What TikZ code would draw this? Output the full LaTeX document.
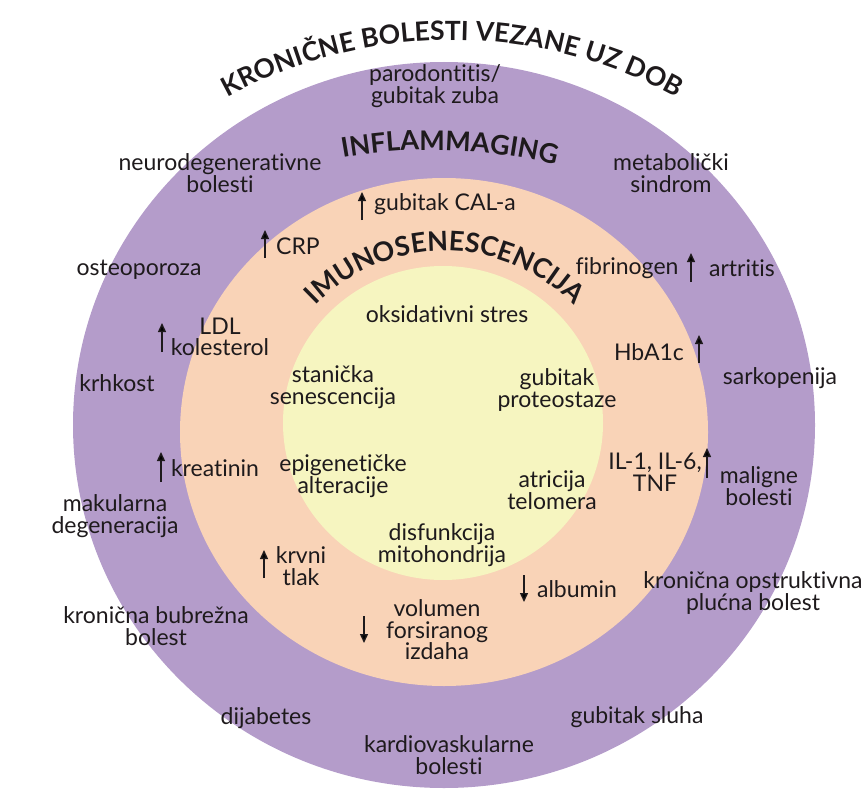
\documentclass[tikz,border=0pt]{standalone}
\usepackage{fontspec}
\setmainfont{Lato}[Ligatures=NoCommon]
\usetikzlibrary{decorations.text,arrows.meta}
\definecolor{ringpurple}{HTML}{B49CCA}
\definecolor{ringpeach}{HTML}{F9D3B7}
\definecolor{ringyellow}{HTML}{F6F5C0}
\definecolor{ink}{HTML}{1E1A1C}
\begin{document}
\begin{tikzpicture}[x=1pt,y=-1pt,
  lbl/.style={font=\fontsize{23}{21.5}\selectfont, text=ink, align=center, inner sep=0pt},
  uparr/.style={draw=ink, line width=1.4pt, -{Triangle[length=9pt,width=8pt]}},
  arctext/.style={decorate, decoration={text along path, text align=center, text color=ink, text={#1}}}
]
\useasboundingbox (0,0) rectangle (867,789);
% rings
\fill[ringpurple] (444,425) ellipse [x radius=371, y radius=363];
\fill[ringpeach] (444,432) ellipse [x radius=264, y radius=254];
\fill[ringyellow] (443,423) ellipse [x radius=160, y radius=157];

% curved titles
\coordinate (ctitle) at (452,507);
\path[arctext={|\fontsize{26.5}{26.5}\selectfont\bfseries|KRONIČNE BOLESTI VEZANE UZ DOB}]
  (ctitle) ++(-130:467) arc[start angle=-130, end angle=-50, radius=467];
\coordinate (cinfl) at (432,661);
\path[arctext={|\fontsize{27}{27}\selectfont\bfseries|INFLAMMAGING}]
  (cinfl) ++(-110:511) arc[start angle=-110, end angle=-66, radius=511];
\coordinate (cimuno) at (445,431);
\path[arctext={|\fontsize{27}{27}\selectfont\bfseries|IMUNOSENESCENCIJA}]
  (cimuno) ++(-145:180) arc[start angle=-145, end angle=-35, radius=180];

% outer ring labels
\node[lbl] (paro) at (435,86) {parodontitis/\\gubitak zuba};
\node[lbl] (neuro) at (220,173) {neurodegenerativne\\bolesti};
\node[lbl] (metab) at (671,173) {metabolički\\sindrom};
\node[lbl] (osteo) at (139,270) {osteoporoza};
\node[lbl] (krhk) at (117,383) {krhkost};
\node[lbl] (makul) at (115,516) {makularna\\degeneracija};
\node[lbl] (kbub) at (156,626) {kronična bubrežna\\bolest};
\node[lbl] (dijab) at (266,718) {dijabetes};
\node[lbl] (kardio) at (449,755) {kardiovaskularne\\bolesti};
\node[lbl] (sluh) at (637,717) {gubitak sluha};
\node[lbl] (kopb) at (753,593) {kronična opstruktivna\\plućna bolest};
\node[lbl] (malig) at (759,486) {maligne\\bolesti};
\node[lbl] (sarko) at (780,378) {sarkopenija};
\node[lbl] (artr) at (742,268) {artritis};

% peach ring labels
\node[lbl] (cal) at (445,204) {gubitak CAL-a};
\node[lbl] (crp) at (298,246) {CRP};
\node[lbl] (fibr) at (627,268) {fibrinogen};
\node[lbl] (ldl) at (220,337) {LDL\\kolesterol};
\node[lbl] (hba) at (649,352) {HbA1c};
\node[lbl] (krea) at (215,468) {kreatinin};
\node[lbl] (il) at (655,472) {IL-1, IL-6,\\TNF};
\node[lbl] (krvni) at (301,566) {krvni\\tlak};
\node[lbl] (albu) at (577,589) {albumin};
\node[lbl] (volu) at (437,630) {volumen\\forsiranog\\izdaha};

% inner labels
\node[lbl] (oks) at (447,314) {oksidativni stres};
\node[lbl] (stan) at (333,387) {stanička\\senescencija};
\node[lbl] (prot) at (557,390) {gubitak\\proteostaze};
\node[lbl] (epi) at (343,476) {epigenetičke\\alteracije};
\node[lbl] (atr) at (552,490) {atricija\\telomera};
\node[lbl] (disf) at (442,545) {disfunkcija\\mitohondrija};

% arrows
\coordinate (a1s) at (362,220); \coordinate (a1e) at (362,192);
\coordinate (a2s) at (265,258); \coordinate (a2e) at (265,230);
\coordinate (a3s) at (691,282); \coordinate (a3e) at (691,253);
\coordinate (a4s) at (162,352); \coordinate (a4e) at (162,323);
\coordinate (a5s) at (699,363); \coordinate (a5e) at (699,335);
\coordinate (a6s) at (161,482); \coordinate (a6e) at (161,452);
\coordinate (a7s) at (707,478); \coordinate (a7e) at (707,448);
\coordinate (a8s) at (264,578); \coordinate (a8e) at (264,550);
\coordinate (a9s) at (524,575); \coordinate (a9e) at (524,602);
\coordinate (a10s) at (364,616); \coordinate (a10e) at (364,643);
\foreach \i in {1,...,10} \draw[uparr] (a\i s) -- (a\i e);
\end{tikzpicture}
\end{document}
